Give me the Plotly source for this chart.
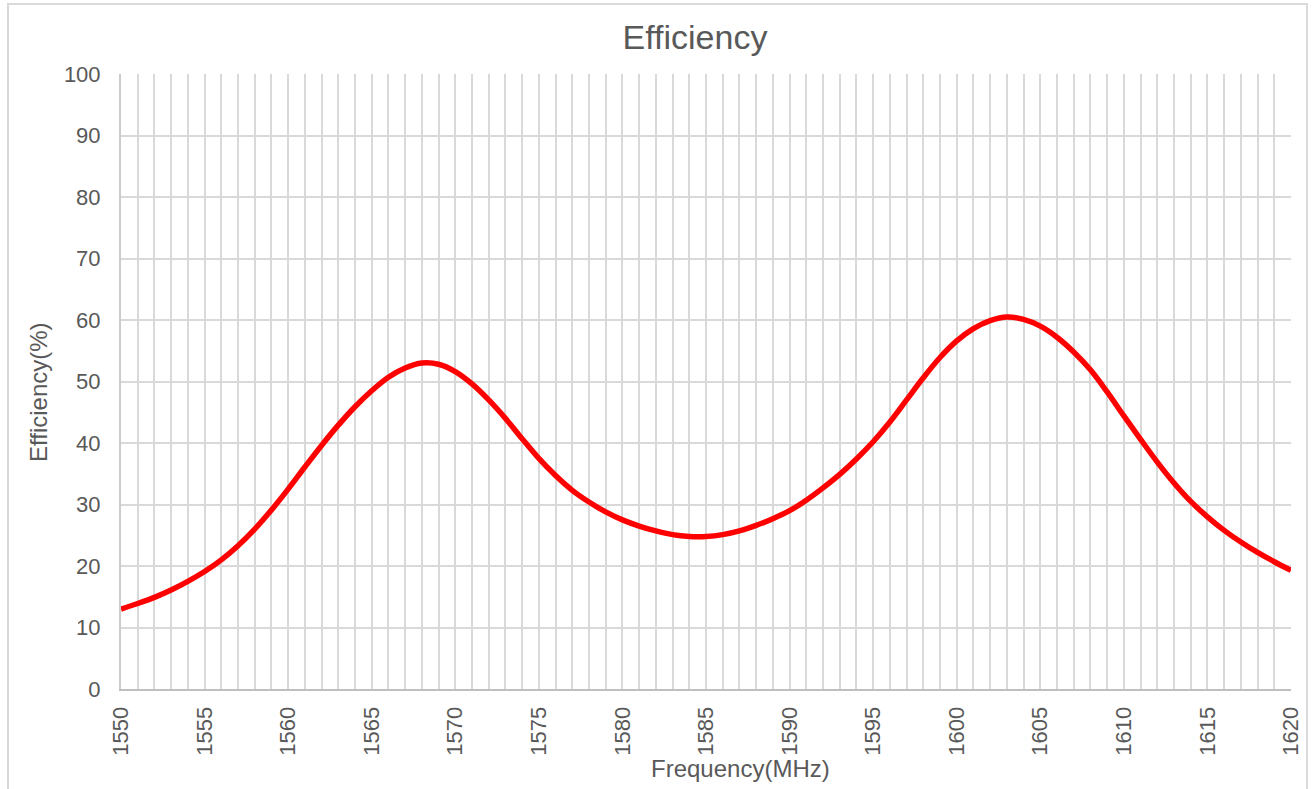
import plotly.graph_objects as go

# frequency points, 1 MHz step
freq_mhz = list(range(1550, 1621))

# efficiency (%)
efficiency = [
    13.0, 13.9, 14.9, 16.1, 17.5, 19.1, 21.0, 23.3, 26.0, 29.1,
    32.5, 36.1, 39.6, 42.9, 45.9, 48.5, 50.7, 52.2, 53.0, 52.8,
    51.6, 49.6, 47.0, 44.0, 40.7, 37.5, 34.7, 32.3, 30.4, 28.8,
    27.5, 26.5, 25.7, 25.1, 24.8, 24.8, 25.1, 25.7, 26.6, 27.7,
    29.0, 30.7, 32.7, 34.9, 37.4, 40.2, 43.4, 47.0, 50.6, 53.9,
    56.6, 58.6, 59.9, 60.5, 60.1, 59.0, 57.2, 54.8, 51.9, 48.3,
    44.4, 40.6, 36.9, 33.5, 30.5, 28.0, 25.8, 23.9, 22.2, 20.7,
    19.3,
]

x_ticks = list(range(1550, 1621, 5))
y_ticks = list(range(0, 101, 10))

FONT = "Liberation Sans, Arial, sans-serif"
TEXT = "#595959"
GRID = "#d9d9d9"

fig = go.Figure(
    go.Scatter(
        x=freq_mhz,
        y=efficiency,
        mode="lines",
        line=dict(color="#ff0000", width=5.5, shape="spline", smoothing=1.0),
        showlegend=False,
    )
)

fig.update_layout(
    width=1312,
    height=789,
    margin=dict(l=121, r=21, t=74, b=100),
    paper_bgcolor="white",
    plot_bgcolor="white",
    font=dict(family=FONT, color=TEXT),
    title=dict(
        text="Efficiency",
        x=(695 / 1312),
        xanchor="center",
        y=1 - 37 / 789,
        yanchor="middle",
        font=dict(size=34, color=TEXT),
    ),
)

fig.update_xaxes(
    range=[1550, 1620],
    tickvals=x_ticks,
    tickangle=-90,
    tickfont=dict(size=22, color=TEXT),
    ticklabelstandoff=7,
    showgrid=True,
    gridcolor=GRID,
    gridwidth=2,
    minor=dict(dtick=1, showgrid=True, gridcolor=GRID, gridwidth=2),
    showline=True,
    linecolor="#bfbfbf",
    linewidth=2,
    zeroline=False,
    automargin=False,
)

fig.update_yaxes(
    range=[0, 100],
    tickvals=y_ticks,
    tickfont=dict(size=22, color=TEXT),
    ticklabelstandoff=14,
    showgrid=True,
    gridcolor=GRID,
    gridwidth=2,
    showline=True,
    linecolor="#cccccc",
    linewidth=2,
    zeroline=False,
    automargin=False,
)

# axis titles sit a little off-centre in the original, so place them by hand
fig.add_annotation(
    text="Frequency(MHz)",
    xref="paper", yref="paper",
    x=(740 - 121) / 1170, y=(689 - 768) / 615,
    xanchor="center", yanchor="middle",
    showarrow=False,
    font=dict(size=24, color=TEXT),
)
fig.add_annotation(
    text="Efficiency(%)",
    xref="paper", yref="paper",
    x=(38 - 121) / 1170, y=(689 - 392) / 615,
    xanchor="center", yanchor="middle",
    textangle=-90,
    showarrow=False,
    font=dict(size=24, color=TEXT),
)

# light border round the whole chart area
fig.add_shape(
    type="rect",
    xref="paper", yref="paper",
    x0=(8 - 121) / 1170, x1=(1307 - 121) / 1170,
    y0=(689 - 800) / 615, y1=(689 - 4) / 615,
    line=dict(color=GRID, width=2),
    fillcolor="rgba(0,0,0,0)",
    layer="below",
)

# drop the default 8px body margin so the figure sits at the window corner
fig.write_html(
    "out.html",
    config={"displayModeBar": False},
    post_script="document.body.style.margin='0px';",
)
